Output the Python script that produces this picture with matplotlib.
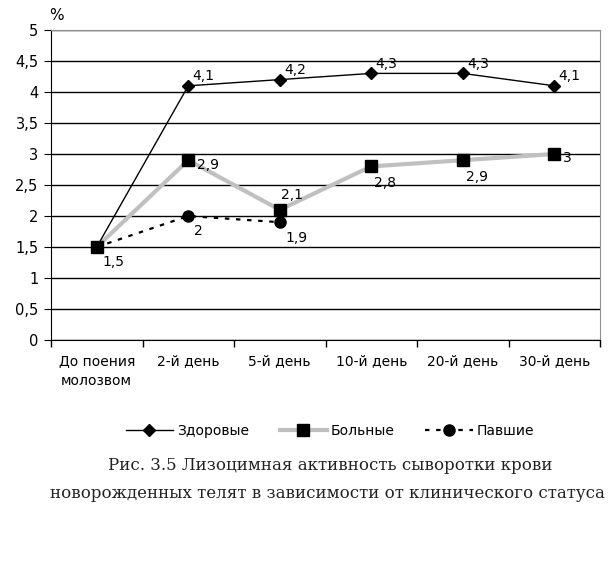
import matplotlib
matplotlib.use('Agg')
import matplotlib.pyplot as plt
from matplotlib.ticker import FuncFormatter, FixedLocator, NullFormatter

plt.rcParams['font.family'] = ['DejaVu Sans']

categories = ['До поения\nмолозвом', '2-й день', '5-й день', '10-й день', '20-й день', '30-й день']
zdorovye = [1.5, 4.1, 4.2, 4.3, 4.3, 4.1]
bolnye = [1.5, 2.9, 2.1, 2.8, 2.9, 3.0]
pavshie = [1.5, 2.0, 1.9]
names = ['Здоровые', 'Больные', 'Павшие']
caption = ['Рис. 3.5 Лизоцимная активность сыворотки крови',
           'новорожденных телят в зависимости от клинического статуса']

fig = plt.figure(figsize=(6.15, 5.83), dpi=100)
ax = fig.add_axes([51/615, 1-340/583, 549/615, 310/583])

x = list(range(len(categories)))
l1, = ax.plot(x, zdorovye, color='black', lw=1, marker='D', ms=6, label=names[0], zorder=4)
l2, = ax.plot(x, bolnye, color='#c0c0c0', lw=3, marker='s', ms=9, mfc='black', mec='black',
              label=names[1], zorder=3)
l3, = ax.plot(x[:len(pavshie)], pavshie, color='black', lw=1.6, ls=(0, (2, 3)), marker='o', ms=8,
              label=names[2], zorder=5)

def fmt(v):
    return ('%g' % v).replace('.', ',')

# первая точка общая для всех рядов - подпись одна (у павших)
for i, v in enumerate(zdorovye):
    if i == 0:
        continue
    ax.annotate(fmt(v), (i, v), xytext=(3, 4), textcoords='offset points', fontsize=10)
offs_b = [None, (6, -6), (1, 8), (2, -15), (2, -15), (6, -6)]
for i, v in enumerate(bolnye):
    if offs_b[i] is None:
        continue
    ax.annotate(fmt(v), (i, v), xytext=offs_b[i], textcoords='offset points', fontsize=10)
for i, v in enumerate(pavshie):
    ax.annotate(fmt(v), (i, v), xytext=(4, -14), textcoords='offset points', fontsize=10)

ax.set_xlim(-0.5, len(categories) - 0.5)
ax.set_ylim(0, 5)
ax.set_yticks([i * 0.5 for i in range(11)])
ax.yaxis.set_major_formatter(FuncFormatter(lambda v, p: fmt(v)))
ax.yaxis.grid(True, color='black', lw=1)
ax.set_axisbelow(True)

ax.xaxis.set_major_locator(FixedLocator([i - 0.5 for i in range(len(categories) + 1)]))
ax.xaxis.set_major_formatter(NullFormatter())
ax.xaxis.set_minor_locator(FixedLocator(x))
ax.set_xticklabels(categories, minor=True)
ax.tick_params(axis='x', which='minor', length=0, pad=10, labelsize=10)
ax.tick_params(axis='x', which='major', length=5, width=1, direction='out')
ax.tick_params(axis='y', length=5, labelsize=10.5, pad=4)
for lab in ax.get_xticklabels(minor=True):
    lab.set_linespacing(1.6)

for s in ['top', 'right']:
    ax.spines[s].set_color('#909090')
for s in ['left', 'bottom']:
    ax.spines[s].set_color('black')

fig.text(49/615, 1-15/583, '%', fontsize=11, va='center')

fig.legend(handles=[l1, l2, l3], loc='center', bbox_to_anchor=(330/615, 1-431/583), ncol=3,
           frameon=False, fontsize=10, handlelength=3.4, columnspacing=2.2, handletextpad=0.3)

fig.text(330/615, 1-465/583, caption[0], ha='center', va='center', fontsize=12,
         family='DejaVu Serif', color='#222222')
fig.text(50/615, 1-494/583, caption[1], ha='left', va='center', fontsize=12,
         family='DejaVu Serif', color='#222222')

fig.savefig('out.png', dpi=100)
